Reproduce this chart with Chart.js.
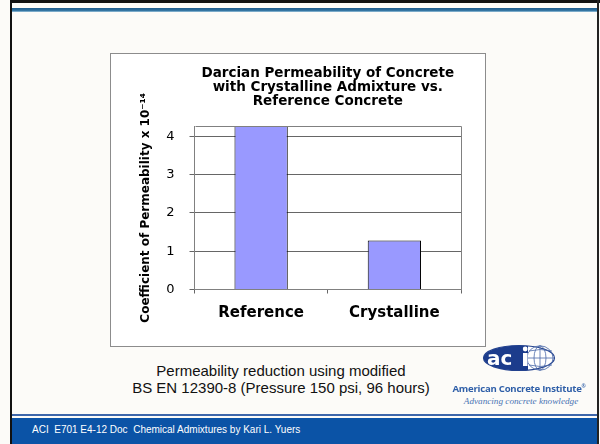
<!DOCTYPE html>
<html lang="en">
<head>
    <meta charset="UTF-8">
    <title>Darcian Permeability of Concrete</title>
    <script src="https://cdn.jsdelivr.net/npm/chart.js"></script>
    <style>
        body {
            margin: 0;
            padding: 0;
            width: 600px;
            height: 444px;
            overflow: hidden;
            background-color: #fcfbf8;
            font-family: 'Liberation Sans', Arial, sans-serif;
            position: relative;
        }
        .frame-top { position: absolute; left: 10px; top: 0; width: 590px; height: 3px; background: #111; }
        .frame-left { position: absolute; left: 10px; top: 0; width: 2px; height: 444px; background: #111; }
        .frame-right { position: absolute; left: 597px; top: 0; width: 2px; height: 444px; background: #222; }
        .top-line { position: absolute; left: 12px; top: 8px; width: 585px; height: 4px;
            background: linear-gradient(#1f5c8c, #2d6f9e 60%, #9cc4dc); }
        .chart-box {
            position: absolute;
            left: 110px;
            top: 53px;
            width: 376px;
            height: 294px;
            box-sizing: border-box;
            border: 1px solid #8c8c8c;
            background: #fff;
        }
        .chart-box canvas { display: block; }
        .caption {
            position: absolute;
            left: 121px;
            top: 363px;
            width: 320px;
            text-align: center;
            font-size: 15px;
            line-height: 16.6px;
            color: #111;
        }
        .footer-line { position: absolute; left: 12px; top: 414px; width: 585px; height: 2px; background: #3d66aa; }
        .footer {
            position: absolute;
            left: 12px;
            top: 418px;
            width: 585px;
            height: 26px;
            background: #0b53a6;
        }
        .footer span {
            position: absolute;
            left: 20px;
            top: 6px;
            color: #fff;
            font-size: 10px;
            white-space: pre;
        }
        .aci-name {
            position: absolute;
            left: 444px;
            top: 382px;
            width: 150px;
            text-align: center;
            font-family: 'Open Sans', sans-serif;
            font-weight: bold;
            font-size: 9.6px;
            letter-spacing: -0.25px;
            color: #2f5fa8;
        }
        .aci-tag {
            position: absolute;
            left: 446px;
            top: 396px;
            width: 150px;
            text-align: center;
            font-family: 'Liberation Serif', serif;
            font-style: italic;
            font-size: 9.2px;
            color: #4a74b4;
        }
        .logo { position: absolute; left: 480px; top: 343px; }
    </style>
</head>
<body>
<div class="frame-top"></div>
<div class="frame-left"></div>
<div class="frame-right"></div>
<div class="top-line"></div>

<div class="chart-box">
    <canvas id="chart" width="374" height="292"></canvas>
</div>

<div class="caption">Permeability reduction using modified<br>BS EN 12390-8 (Pressure 150 psi, 96 hours)</div>

<svg class="logo" width="80" height="32" viewBox="0 0 80 32">
    <defs>
        <clipPath id="leftPart"><rect x="0" y="0" width="48" height="32"/></clipPath>
    </defs>
    <ellipse cx="39" cy="15" rx="35.5" ry="12.5" fill="#fff" stroke="#27458f" stroke-width="1.2"/>
    <ellipse cx="39" cy="15" rx="35.5" ry="12.5" fill="#1c3c8c" clip-path="url(#leftPart)"/>
    <g fill="none" stroke="#4a68a8" stroke-width="0.8">
        <ellipse cx="60" cy="15" rx="13" ry="12.2"/>
        <ellipse cx="60" cy="15" rx="6" ry="12.2"/>
        <line x1="60" y1="2.8" x2="60" y2="27.2"/>
        <line x1="47" y1="15" x2="74" y2="15"/>
        <path d="M49 8 Q60 5 72 8"/>
        <path d="M49 22 Q60 25 72 22"/>
    </g>
    <text x="7" y="22" font-family="'DejaVu Sans', sans-serif" font-weight="bold" font-size="20" fill="#fff">ac</text>
    <rect x="43" y="10" width="4.5" height="13" fill="#fff"/>
    <circle cx="45.2" cy="6" r="2.4" fill="#fff"/>
</svg>
<div class="aci-name">American Concrete Institute<sup style="font-size:5px">®</sup></div>
<div class="aci-tag">Advancing concrete knowledge</div>

<div class="footer-line"></div>
<div class="footer"><span>ACI  E701 E4-12 Doc  Chemical Admixtures by Kari L. Yuers</span></div>

<script>
    // Chart data
    const categories = ['Reference', 'Crystalline'];
    const permeability = [4.27, 1.28];
    const yTicks = [0, 1, 2, 3, 4];
    const yMax = 4.27;

    const font = "'DejaVu Sans', 'Liberation Sans', sans-serif";

    // draws the top and right edges of the plot area
    const plotFrame = {
        id: 'plotFrame',
        afterDraw(chart) {
            const a = chart.chartArea;
            const ctx = chart.ctx;
            ctx.save();
            ctx.strokeStyle = '#808080';
            ctx.lineWidth = 1;
            ctx.beginPath();
            ctx.moveTo(Math.round(a.left) + 0.5, Math.round(a.top) + 0.5);
            ctx.lineTo(Math.round(a.right) + 0.5, Math.round(a.top) + 0.5);
            ctx.lineTo(Math.round(a.right) + 0.5, Math.round(a.bottom) + 0.5);
            ctx.stroke();
            ctx.restore();
        }
    };

    new Chart(document.getElementById('chart').getContext('2d'), {
        type: 'bar',
        data: {
            labels: categories,
            datasets: [{
                data: permeability,
                backgroundColor: '#9999ff',
                borderColor: '#000',
                borderWidth: 1,
                barPercentage: 0.4,
                categoryPercentage: 1.0
            }]
        },
        options: {
            responsive: false,
            animation: false,
            devicePixelRatio: 1,
            layout: { padding: { left: 24, right: 24, top: 0, bottom: 13.5 } },
            plugins: {
                legend: { display: false },
                tooltip: { enabled: false },
                title: {
                    display: true,
                    fullSize: false,
                    text: ['Darcian Permeability of Concrete', 'with Crystalline Admixture vs.', 'Reference Concrete'],
                    color: '#000',
                    font: { family: font, size: 13.5, weight: 'bold', lineHeight: 14 / 13.5 },
                    padding: { top: 12, bottom: 18 }
                }
            },
            scales: {
                x: {
                    grid: { drawOnChartArea: false, drawTicks: true, tickLength: 4, color: '#666' },
                    border: { color: '#808080' },
                    ticks: { color: '#000', padding: 10.5, font: { family: font, size: 15, weight: 'bold' } }
                },
                y: {
                    min: 0,
                    max: yMax,
                    afterFit(scale) { scale.width = 59.5; },
                    afterBuildTicks(scale) { scale.ticks = yTicks.map(v => ({ value: v })); },
                    grid: { color: '#666', tickLength: 5 },
                    border: { color: '#808080' },
                    ticks: { color: '#000', padding: 15, font: { family: font, size: 13 } },
                    title: {
                        display: true,
                        text: 'Coefficient of Permeability x 10\u207B\u00B9\u2074',
                        color: '#000',
                        font: { family: font, size: 12, weight: 'bold' }
                    }
                }
            }
        },
        plugins: [plotFrame]
    });
</script>
</body>
</html>
